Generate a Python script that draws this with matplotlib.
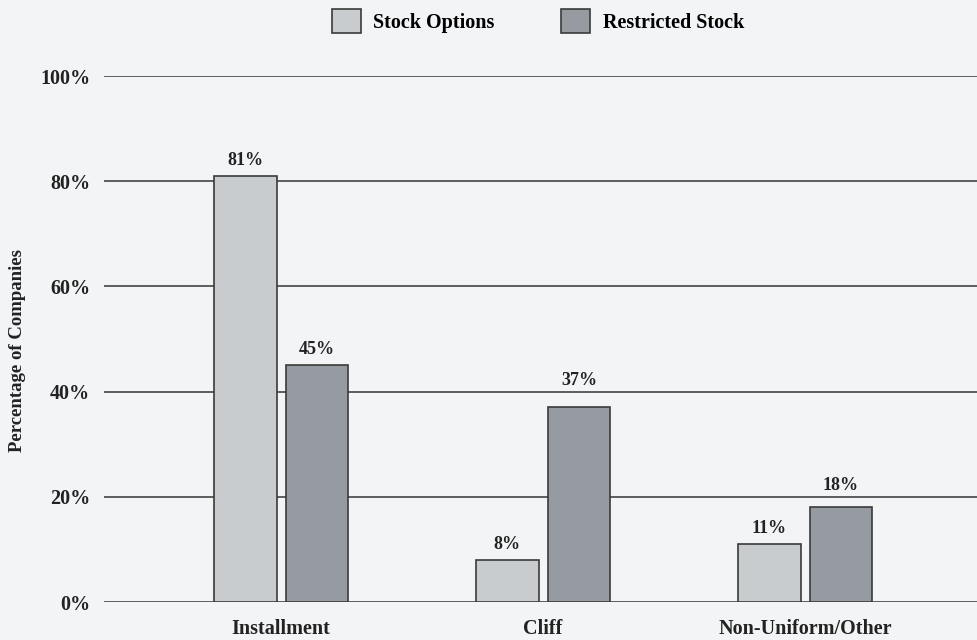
import numpy as np
import matplotlib.pyplot as plt
from matplotlib.patches import Patch

categories = ['Installment', 'Cliff', 'Non-Uniform/Other']
stock_options = [81, 8, 11]
restricted_stock = [45, 37, 18]
yticks = [0, 20, 40, 60, 80, 100]

bg = '#f3f4f6'
light = '#c8cccf'
dark = '#959ba1'
edge = '#3a3a3a'
ink = '#222222'

plt.rcParams['font.family'] = ['Liberation Serif', 'DejaVu Serif']
plt.rcParams['font.weight'] = 'bold'

fig = plt.figure(figsize=(9.77, 6.4), dpi=100, facecolor=bg)
ax = fig.add_axes([104 / 977, 38 / 640, 1 - 104 / 977, 526 / 640])
ax.set_facecolor(bg)

x = np.arange(len(categories))
w = 0.24
off = 0.137
b1 = ax.bar(x - off, stock_options, w, color=light, edgecolor=edge, linewidth=1.2, zorder=3)
b2 = ax.bar(x + off, restricted_stock, w, color=dark, edgecolor=edge, linewidth=1.2, zorder=3)

# value labels sit just above the bar, lifted clear of a gridline if they would cross one
label_h = 3.4
for bars, vals in ((b1, stock_options), (b2, restricted_stock)):
    for r, v in zip(bars, vals):
        y0 = v + 1.4
        for g in yticks:
            if y0 < g < y0 + label_h:
                y0 = g + 0.5
        ax.text(r.get_x() + r.get_width() / 2, y0, f'{v}%', ha='center', va='bottom',
                fontsize=13, fontweight='bold', color=ink)

ax.set_xlim(-0.676, 2.656)
ax.set_ylim(0, 100)
ax.set_yticks(yticks)
ax.set_yticklabels([f'{t}%' for t in yticks], fontsize=14.5, fontweight='bold', color=ink)
ax.set_xticks(x)
ax.set_xticklabels(categories, fontsize=14.5, fontweight='bold', color=ink)
ax.tick_params(axis='y', length=0, pad=10)
ax.tick_params(axis='x', length=0, pad=12)
ax.yaxis.grid(True, color='#444444', linewidth=1.2, zorder=0)
for s in ax.spines.values():
    s.set_visible(False)

fig.text(18 / 977, 1 - 350 / 640, 'Percentage of Companies', rotation=90, ha='center', va='center',
         fontsize=13.5, fontweight='bold', color=ink)

handles = [Patch(facecolor=light, edgecolor=edge, linewidth=1.2, label='Stock Options'),
           Patch(facecolor=dark, edgecolor=edge, linewidth=1.2, label='Restricted Stock')]
fig.legend(handles=handles, loc='center', bbox_to_anchor=(538 / 977, 1 - 21 / 640), ncol=2,
           frameon=False, handlelength=1.45, handleheight=1.45,
           handletextpad=0.6, columnspacing=3.3, prop={'weight': 'bold', 'size': 14.5})

fig.savefig('out.png', dpi=100, facecolor=bg)
